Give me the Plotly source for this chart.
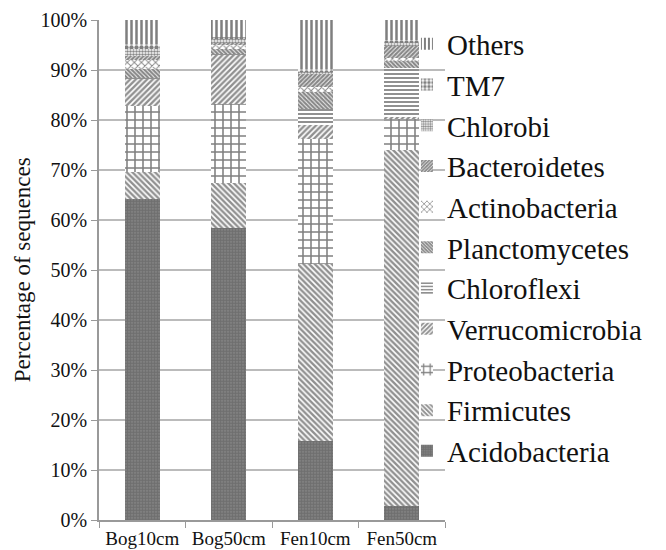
import plotly.graph_objects as go

samples = ["Bog10cm", "Bog50cm", "Fen10cm", "Fen50cm"]

acidobacteria = [64.2, 58.5, 15.8, 2.8]
firmicutes = [5.5, 9.0, 35.4, 71.2]
proteobacteria = [13.2, 15.7, 25.1, 6.3]
verrucomicrobia = [5.3, 9.9, 2.7, 0.3]
chloroflexi = [0.2, 0.2, 3.3, 9.9]
planctomycetes = [1.8, 0.9, 3.3, 1.3]
actinobacteria = [1.9, 0.9, 1.0, 0.6]
bacteroidetes = [0.7, 0.3, 2.7, 2.4]
chlorobi = [1.5, 0.8, 0.3, 0.6]
tm7 = [1.0, 0.5, 0.6, 0.6]
others = [4.7, 3.3, 9.8, 4.0]

series = [
    ("Acidobacteria", acidobacteria, dict(shape=".", size=3, solidity=0.7, fgcolor="#555", bgcolor="#888")),
    ("Firmicutes", firmicutes, dict(shape="\\", size=4, solidity=0.6, fgcolor="#222", bgcolor="white")),
    ("Proteobacteria", proteobacteria, dict(shape="+", size=8, solidity=0.35, fgcolor="#000", bgcolor="white")),
    ("Verrucomicrobia", verrucomicrobia, dict(shape="/", size=4, solidity=0.6, fgcolor="#222", bgcolor="white")),
    ("Chloroflexi", chloroflexi, dict(shape="-", size=4, solidity=0.5, fgcolor="#222", bgcolor="white")),
    ("Planctomycetes", planctomycetes, dict(shape="\\", size=3, solidity=0.75, fgcolor="#111", bgcolor="white")),
    ("Actinobacteria", actinobacteria, dict(shape="x", size=5, solidity=0.35, fgcolor="#111", bgcolor="white")),
    ("Bacteroidetes", bacteroidetes, dict(shape="/", size=3, solidity=0.75, fgcolor="#111", bgcolor="white")),
    ("Chlorobi", chlorobi, dict(shape=".", size=3, solidity=0.55, fgcolor="#111", bgcolor="white")),
    ("TM7", tm7, dict(shape=".", size=5, solidity=0.6, fgcolor="#000", bgcolor="white")),
    ("Others", others, dict(shape="|", size=5, solidity=0.5, fgcolor="#000", bgcolor="white")),
]

fig = go.Figure()
for name, vals, pat in series:
    fig.add_trace(go.Bar(
        x=samples, y=vals, name=name,
        marker=dict(color="white", pattern=pat, line=dict(width=0)),
    ))

font_family = "Liberation Serif"
fig.update_layout(
    barmode="stack",
    bargap=0.59,
    width=666, height=550,
    margin=dict(l=91, r=229, t=12, b=38, autoexpand=False),
    plot_bgcolor="white", paper_bgcolor="white",
    font=dict(family=font_family, color="#111", size=19),
    legend=dict(
        x=0.89, xanchor="left", y=0.545, yanchor="middle",
        font=dict(family=font_family, size=29, color="#111"),
        bgcolor="rgba(0,0,0,0)",
    ),
    xaxis=dict(
        showline=True, linecolor="#999", linewidth=1.5,
        ticks="outside", tickson="boundaries", ticklen=6, tickcolor="#999",
        tickfont=dict(size=19, family=font_family),
        showgrid=False,
    ),
    yaxis=dict(
        range=[0, 100], dtick=10, ticksuffix="%",
        showline=True, linecolor="#999", linewidth=1.5,
        ticks="outside", ticklen=6, tickcolor="#999",
        ticklabeloverflow="allow",
        showgrid=True, gridcolor="#bbb", gridwidth=1.5,
        tickfont=dict(size=20, family=font_family),
        zeroline=False,
    ),
    annotations=[dict(
        text="Percentage of sequences", xref="paper", yref="paper",
        x=-0.222, y=0.5, xanchor="center", yanchor="middle",
        textangle=-90, showarrow=False,
        font=dict(size=23, family=font_family, color="#111"),
    )],
)

fig.write_html("out.html")
